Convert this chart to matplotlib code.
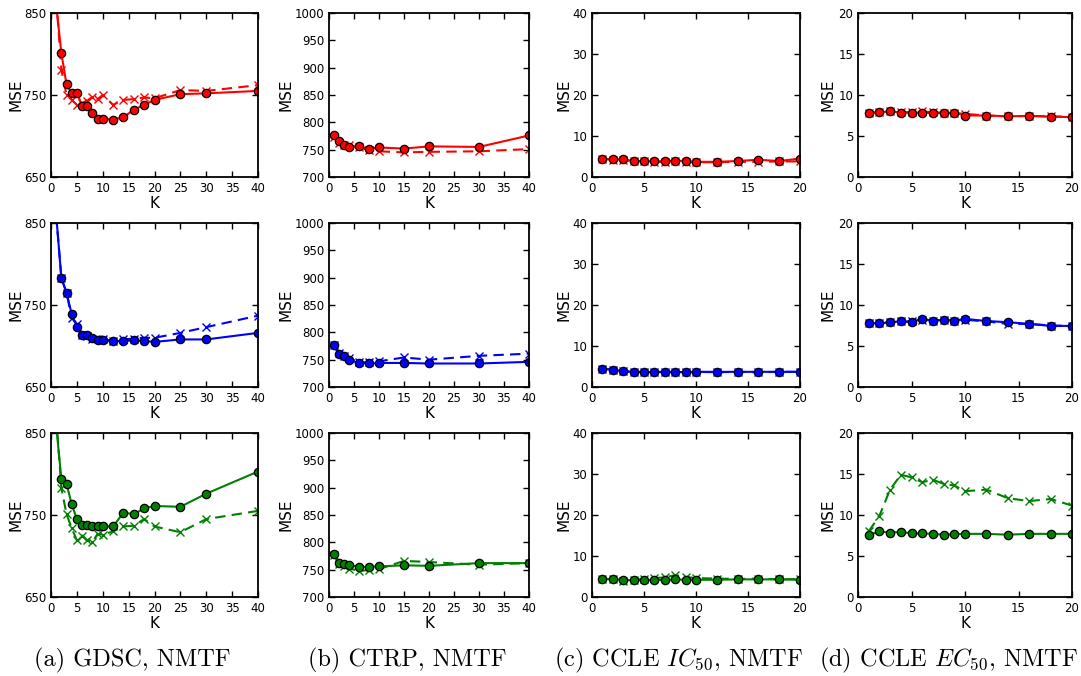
import matplotlib
matplotlib.use("Agg")
import matplotlib.pyplot as plt
from matplotlib.ticker import MultipleLocator, FixedLocator

plt.rcParams['font.family'] = 'DejaVu Sans'
plt.rcParams['mathtext.fontset'] = 'cm'
plt.rcParams['xtick.direction'] = 'in'
plt.rcParams['ytick.direction'] = 'in'
plt.rcParams['xtick.top'] = True
plt.rcParams['ytick.right'] = True
plt.rcParams['xtick.major.size'] = 4
plt.rcParams['ytick.major.size'] = 4
plt.rcParams['axes.linewidth'] = 1.3

# K values tried per dataset
k_gdsc = [1, 2, 3, 4, 5, 6, 7, 8, 9, 10, 12, 14, 16, 18, 20, 25, 30, 40]
k_ctrp = [1, 2, 3, 4, 6, 8, 10, 15, 20, 30, 40]
k_ccle = [1, 2, 3, 4, 5, 6, 7, 8, 9, 10, 12, 14, 16, 18, 20]

# GDSC, NMTF
gdsc_r_o = [860, 801, 763, 752, 753, 737, 737, 728, 721, 721, 720, 723, 732, 738, 744, 751, 752, 755]
gdsc_r_x = [870, 781, 750, 744, 738, 740, 743, 748, 745, 750, 738, 744, 745, 747, 746, 756, 755, 762]
gdsc_b_o = [860, 783, 765, 739, 723, 714, 713, 710, 707, 707, 706, 706, 707, 706, 705, 708, 708, 716]
gdsc_b_x = [860, 783, 765, 734, 727, 714, 712, 709, 708, 708, 706, 708, 709, 710, 710, 716, 723, 737]
gdsc_g_o = [860, 794, 788, 763, 745, 738, 738, 736, 736, 736, 736, 753, 751, 758, 761, 760, 776, 803]
gdsc_g_x = [870, 783, 751, 734, 719, 725, 719, 717, 727, 726, 730, 736, 737, 745, 736, 729, 745, 755]

# CTRP, NMTF
ctrp_r_o = [776, 766, 759, 755, 756, 752, 754, 752, 756, 755, 776]
ctrp_r_x = [774, 762, 758, 758, 754, 749, 747, 745, 746, 747, 751]
ctrp_b_o = [776, 760, 756, 749, 744, 743, 744, 744, 743, 743, 746]
ctrp_b_x = [777, 762, 757, 753, 745, 745, 747, 754, 750, 757, 761]
ctrp_g_o = [778, 763, 761, 759, 755, 755, 756, 758, 757, 762, 762]
ctrp_g_x = [776, 761, 757, 752, 748, 749, 751, 766, 764, 759, 762]

# CCLE IC50, NMTF
ic50_r_o = [4.5, 4.3, 4.3, 3.9, 3.9, 3.8, 3.9, 4.0, 3.9, 3.7, 3.7, 3.9, 4.2, 3.9, 4.5]
ic50_r_x = [4.4, 4.2, 4.1, 3.9, 3.8, 3.6, 3.7, 3.8, 3.7, 3.6, 3.6, 3.7, 3.7, 3.8, 3.8]
ic50_b_o = [4.5, 4.2, 3.8, 3.7, 3.6, 3.7, 3.7, 3.7, 3.6, 3.7, 3.7, 3.7, 3.7, 3.7, 3.7]
ic50_b_x = [4.5, 4.2, 3.9, 3.7, 3.7, 3.6, 3.7, 3.6, 3.6, 3.7, 3.6, 3.7, 3.6, 3.7, 3.7]
ic50_g_o = [4.4, 4.3, 4.2, 4.1, 4.1, 4.2, 4.1, 4.3, 4.2, 4.2, 4.2, 4.3, 4.3, 4.3, 4.2]
ic50_g_x = [4.5, 4.3, 4.0, 4.2, 4.4, 4.6, 4.8, 5.3, 4.9, 4.6, 4.5, 4.4, 4.5, 4.3, 4.4]

# CCLE EC50, NMTF
ec50_r_o = [7.8, 7.9, 8.0, 7.85, 7.85, 7.85, 7.8, 7.8, 7.85, 7.5, 7.5, 7.4, 7.45, 7.35, 7.3]
ec50_r_x = [7.8, 7.9, 8.0, 7.9, 7.9, 8.0, 7.9, 7.85, 7.8, 7.7, 7.5, 7.4, 7.45, 7.4, 7.35]
ec50_b_o = [7.8, 7.75, 7.9, 8.0, 7.9, 8.35, 8.05, 8.2, 8.1, 8.3, 8.05, 7.9, 7.7, 7.45, 7.45]
ec50_b_x = [7.8, 7.8, 7.9, 8.0, 8.0, 8.2, 8.1, 8.2, 8.1, 8.2, 8.0, 7.7, 7.7, 7.5, 7.45]
ec50_g_o = [7.55, 8.0, 7.85, 7.95, 7.75, 7.75, 7.7, 7.6, 7.65, 7.7, 7.7, 7.6, 7.7, 7.7, 7.7]
ec50_g_x = [8.0, 9.9, 13.1, 14.9, 14.6, 14.0, 14.3, 13.8, 13.6, 12.9, 13.1, 12.05, 11.7, 11.95, 11.15]

row_colors = ['r', 'b', (0, 0.5, 0)]

# per column: K values, rows of (circle series, cross series), axis setup
columns = [
    (k_gdsc, [(gdsc_r_o, gdsc_r_x), (gdsc_b_o, gdsc_b_x), (gdsc_g_o, gdsc_g_x)],
     (0, 40), 5, (650, 850), [650, 750, 850]),
    (k_ctrp, [(ctrp_r_o, ctrp_r_x), (ctrp_b_o, ctrp_b_x), (ctrp_g_o, ctrp_g_x)],
     (0, 40), 5, (700, 1000), list(range(700, 1001, 50))),
    (k_ccle, [(ic50_r_o, ic50_r_x), (ic50_b_o, ic50_b_x), (ic50_g_o, ic50_g_x)],
     (0, 20), 5, (0, 40), list(range(0, 41, 10))),
    (k_ccle, [(ec50_r_o, ec50_r_x), (ec50_b_o, ec50_b_x), (ec50_g_o, ec50_g_x)],
     (0, 20), 5, (0, 20), list(range(0, 21, 5))),
]

captions = [
    '(a) GDSC, NMTF',
    '(b) CTRP, NMTF',
    r'(c) CCLE $IC_{50}$, NMTF',
    r'(d) CCLE $EC_{50}$, NMTF',
]
caption_x = [132, 407, 678, 948]

W, H = 1081, 676
col_px = [(51, 258), (329, 529), (592, 800), (858, 1072)]
row_px = [(13, 177), (223, 387), (433, 597)]
ylab_x = [-0.135, -0.175, -0.10, -0.103]

fig = plt.figure(figsize=(W / 100, H / 100), dpi=100)

for c, (ks, rows, xlim, xstep, ylim, yticks) in enumerate(columns):
    x0, x1 = col_px[c]
    for r, (circ, cross) in enumerate(rows):
        y0, y1 = row_px[r]
        ax = fig.add_axes([x0 / W, 1 - y1 / H, (x1 - x0) / W, (y1 - y0) / H])
        col = row_colors[r]
        ax.plot(ks, cross, '--', color=col, lw=1.5, dashes=(5, 3),
                marker='x', ms=6, mew=1.0, mec=col)
        ax.plot(ks, circ, '-', color=col, lw=1.5,
                marker='o', ms=6, mfc=col, mec='k', mew=0.9)
        ax.set_xlim(*xlim)
        ax.set_ylim(*ylim)
        ax.xaxis.set_major_locator(MultipleLocator(xstep))
        ax.yaxis.set_major_locator(FixedLocator(yticks))
        ax.tick_params(labelsize=8.5, width=1)
        ax.set_xlabel('K', fontsize=11)
        ax.set_ylabel('MSE', fontsize=11)
        ax.xaxis.set_label_coords(0.5, -0.115)
        ax.yaxis.set_label_coords(ylab_x[c], 0.5)

    fig.text(caption_x[c] / W, 1 - 660 / H, captions[c], fontsize=17.5,
             family='cmr10', ha='center', va='center')

fig.savefig('out.png', dpi=100)
